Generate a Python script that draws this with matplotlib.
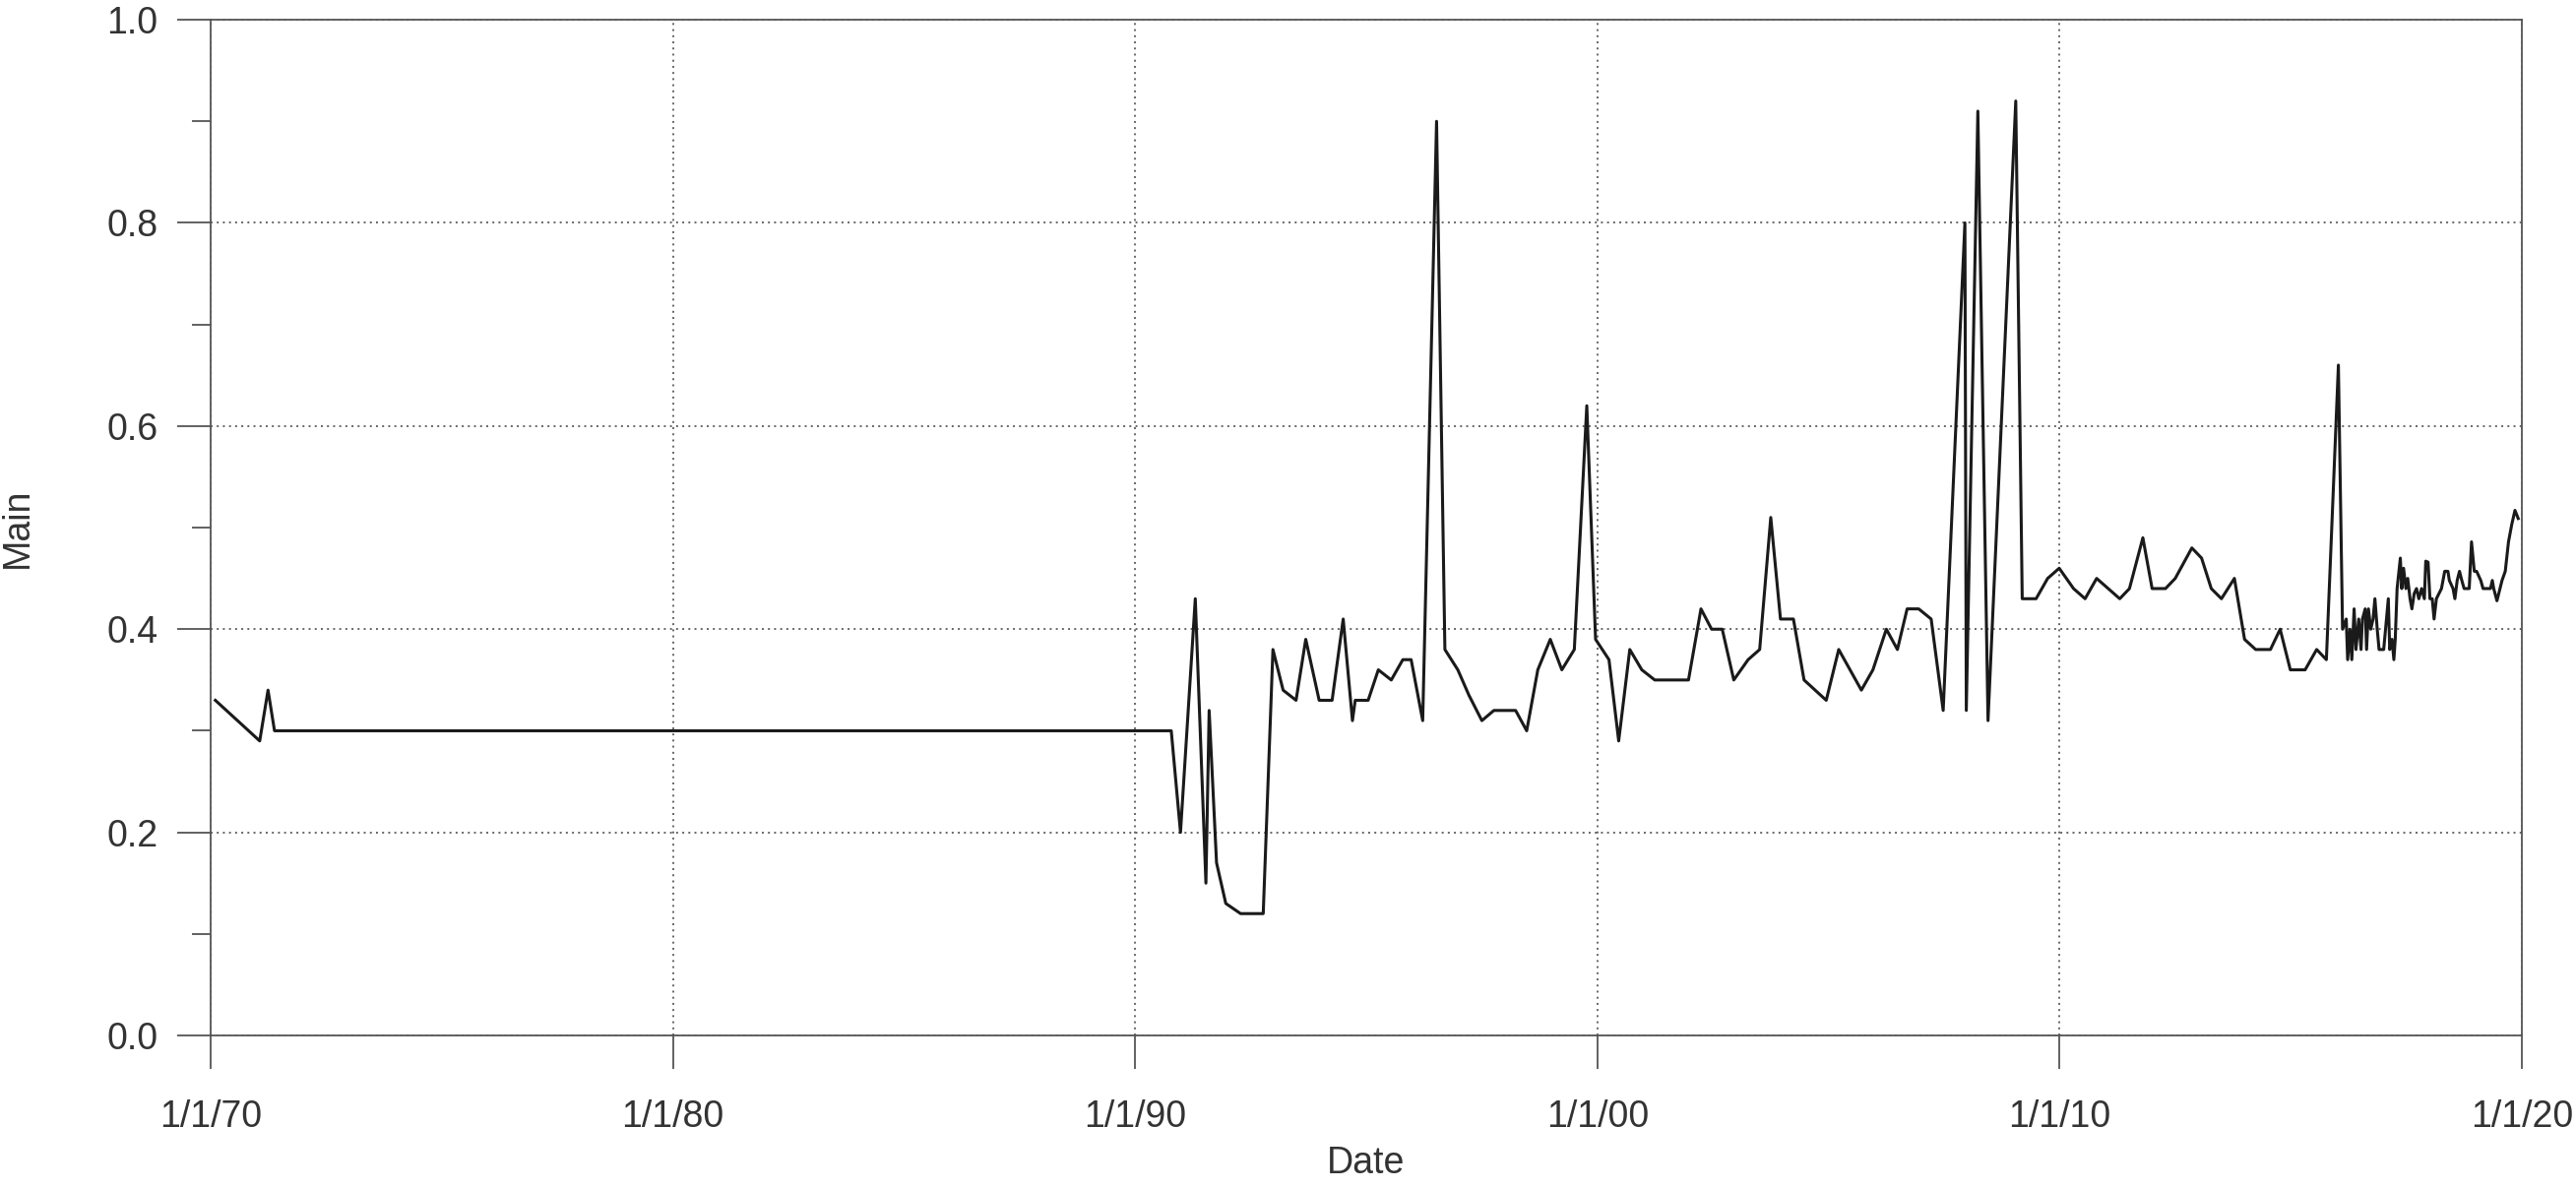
import matplotlib

matplotlib.use("Agg")

import matplotlib.pyplot as plt  # noqa: E402
from matplotlib.ticker import MultipleLocator  # noqa: E402

plt.rcParams["font.family"] = ["Liberation Sans", "DejaVu Sans"]

# decimal years and values
years = [
    1970.10, 1971.06, 1971.24, 1971.38, 1990.78, 1990.98, 1991.30, 1991.53,
    1991.60, 1991.76, 1991.96, 1992.28, 1992.77, 1992.98, 1993.20, 1993.48,
    1993.69, 1993.98, 1994.26, 1994.50, 1994.70, 1994.76, 1995.04, 1995.26,
    1995.54, 1995.79, 1995.97, 1996.22, 1996.52, 1996.70, 1996.98, 1997.22,
    1997.50, 1997.76, 1998.23, 1998.47, 1998.71, 1998.98, 1999.23, 1999.50,
    1999.77, 1999.96, 2000.25, 2000.46, 2000.70, 2000.96, 2001.24, 2001.97,
    2002.24, 2002.47, 2002.70, 2002.95, 2003.26, 2003.51, 2003.75, 2003.96,
    2004.24, 2004.47, 2004.95, 2005.22, 2005.71, 2005.96, 2006.25, 2006.49,
    2006.70, 2006.95, 2007.22, 2007.48, 2007.95, 2007.98, 2008.23, 2008.45,
    2009.05, 2009.19, 2009.49, 2009.74, 2009.99, 2010.30, 2010.55, 2010.80,
    2011.30, 2011.51, 2011.80, 2012.00, 2012.29, 2012.50, 2012.86, 2013.07,
    2013.28, 2013.50, 2013.78, 2014.00, 2014.24, 2014.56, 2014.77, 2014.99,
    2015.31, 2015.56, 2015.77, 2016.03, 2016.12, 2016.20, 2016.23, 2016.28,
    2016.32, 2016.37, 2016.41, 2016.47, 2016.52, 2016.55, 2016.61, 2016.64,
    2016.68, 2016.73, 2016.78, 2016.82, 2016.87, 2016.91, 2017.01, 2017.05,
    2017.11, 2017.14, 2017.19, 2017.23, 2017.26, 2017.30, 2017.37, 2017.40,
    2017.44, 2017.49, 2017.53, 2017.58, 2017.62, 2017.67, 2017.72, 2017.77,
    2017.83, 2017.89, 2017.92, 2017.97, 2018.01, 2018.06, 2018.10, 2018.15,
    2018.26, 2018.33, 2018.40, 2018.43, 2018.51, 2018.55, 2018.60, 2018.65,
    2018.70, 2018.75, 2018.86, 2018.91, 2018.97, 2019.02, 2019.11, 2019.16,
    2019.32, 2019.36, 2019.39, 2019.46, 2019.57, 2019.64, 2019.71, 2019.78,
    2019.85, 2019.92,
]
main = [
    0.33, 0.29, 0.34, 0.30, 0.30, 0.20, 0.43, 0.15,
    0.32, 0.17, 0.13, 0.12, 0.12, 0.38, 0.34, 0.33,
    0.39, 0.33, 0.33, 0.41, 0.31, 0.33, 0.33, 0.36,
    0.35, 0.37, 0.37, 0.31, 0.90, 0.38, 0.36, 0.335,
    0.31, 0.32, 0.32, 0.30, 0.36, 0.39, 0.36, 0.38,
    0.62, 0.39, 0.37, 0.29, 0.38, 0.36, 0.35, 0.35,
    0.42, 0.40, 0.40, 0.35, 0.37, 0.38, 0.51, 0.41,
    0.41, 0.35, 0.33, 0.38, 0.34, 0.36, 0.40, 0.38,
    0.42, 0.42, 0.41, 0.32, 0.80, 0.32, 0.91, 0.31,
    0.92, 0.43, 0.43, 0.45, 0.46, 0.44, 0.43, 0.45,
    0.43, 0.44, 0.49, 0.44, 0.44, 0.45, 0.48, 0.47,
    0.44, 0.43, 0.45, 0.39, 0.38, 0.38, 0.40, 0.36,
    0.36, 0.38, 0.37, 0.66, 0.40, 0.41, 0.37, 0.40,
    0.37, 0.42, 0.38, 0.41, 0.38, 0.41, 0.42, 0.38,
    0.42, 0.40, 0.41, 0.43, 0.40, 0.38, 0.38, 0.40,
    0.43, 0.38, 0.39, 0.37, 0.39, 0.44, 0.47, 0.44,
    0.46, 0.44, 0.45, 0.43, 0.42, 0.435, 0.44, 0.43,
    0.44, 0.43, 0.467, 0.466, 0.43, 0.43, 0.41, 0.43,
    0.44, 0.457, 0.457, 0.448, 0.44, 0.43, 0.448, 0.457,
    0.448, 0.44, 0.44, 0.486, 0.457, 0.457, 0.448, 0.44,
    0.44, 0.448, 0.44, 0.428, 0.448, 0.457, 0.486, 0.503,
    0.517, 0.509,
]

tick_years = [1970, 1980, 1990, 2000, 2010, 2020]
tick_labels = ["1/1/70", "1/1/80", "1/1/90", "1/1/00", "1/1/10", "1/1/20"]

text_color = "#333333"
axis_color = "#555555"
fsize = 27

fig = plt.figure(figsize=(26.17, 12.08), dpi=100)
ax = fig.add_axes([0.0818, 0.1291, 0.8972, 0.8543])

ax.plot(years, main, color="#1a1a1a", linewidth=2.2, zorder=3)

ax.set_xlim(1970, 2020)
ax.set_ylim(0, 1.0)
ax.set_xticks(tick_years)
ax.set_xticklabels(tick_labels)
ax.yaxis.set_major_locator(MultipleLocator(0.2))
ax.yaxis.set_minor_locator(MultipleLocator(0.1))
ax.yaxis.set_major_formatter(plt.FormatStrFormatter("%.1f"))

ax.grid(True, which="major", color="#666666", linestyle=(0, (1, 2.2)),
        linewidth=1.4)
ax.set_axisbelow(True)

for s in ax.spines.values():
    s.set_color(axis_color)
    s.set_linewidth(1.3)

ax.tick_params(axis="both", which="major", direction="out", length=24.5,
               width=1.3, color=axis_color, labelsize=fsize,
               labelcolor=text_color)
ax.tick_params(axis="x", which="major", pad=22)
ax.tick_params(axis="y", which="major", pad=14)
ax.tick_params(axis="y", which="minor", direction="out", length=14,
               width=1.3, color=axis_color)

ax.set_xlabel("Date", fontsize=fsize, color=text_color, labelpad=8)
ax.set_ylabel("Main", fontsize=fsize, color=text_color, labelpad=52)

fig.savefig("out.png", dpi=100)
